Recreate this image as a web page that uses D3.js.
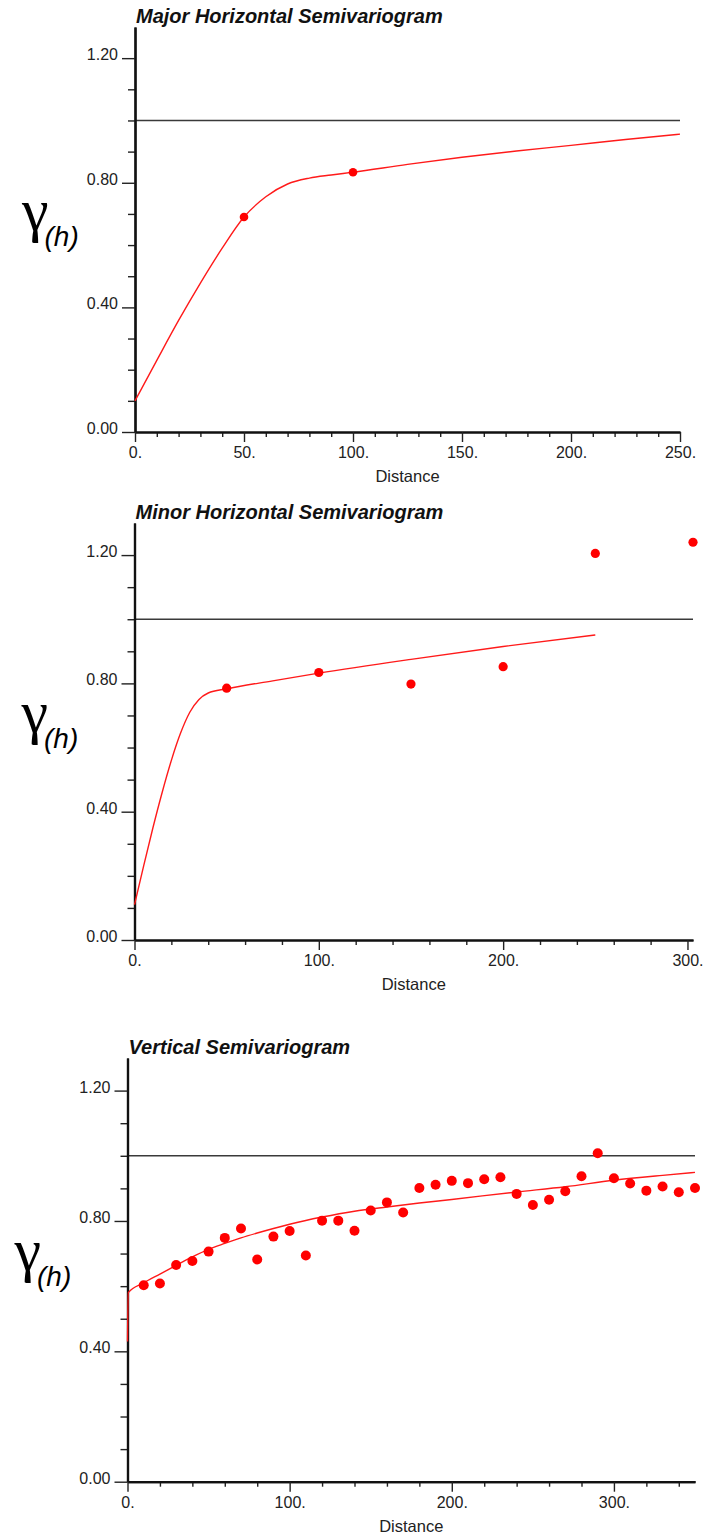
<!DOCTYPE html>
<html>
<head>
    <title>Semivariograms</title>
    <style>
        body { margin: 0; background: #ffffff; }
        svg { display: block; font-family: "Liberation Sans", Arial, sans-serif; }
        .axis-line { stroke: #111; stroke-width: 2.2px; fill: none; }
        .tick-line { stroke: #222; stroke-width: 1.4px; }
        .tick-label { font-size: 16px; fill: #222; }
        .sill { stroke: #3a3a3a; stroke-width: 1.4px; }
        .model { fill: none; stroke: #ff1a1a; stroke-width: 1.4px; }
        .pt { fill: #ff0000; }
        .title { font-size: 20px; font-weight: bold; font-style: italic; fill: #111; }
        .xlabel { font-size: 16.5px; fill: #222; }
    </style>
    <script src="https://d3js.org/d3.v7.min.js"></script>
</head>
<body>
<div id="chart"></div>
<script>
// titles
var titles = ["Major Horizontal Semivariogram", "Minor Horizontal Semivariogram", "Vertical Semivariogram"];

// experimental points
var majorLag = [50, 100];
var majorGamma = [0.69, 0.834];
var minorLag = [50, 100, 150, 200, 250, 303];
var minorGamma = [0.785, 0.834, 0.798, 0.852, 1.205, 1.24];
var vertLag = [10, 20, 30, 40, 50, 60, 70, 80, 90, 100, 110, 120, 130, 140, 150, 160, 170, 180,
               190, 200, 210, 220, 230, 240, 250, 260, 270, 280, 290, 300, 310, 320, 330, 340, 350];
var vertGamma = [0.603, 0.608, 0.665, 0.677, 0.706, 0.748, 0.777, 0.682, 0.752, 0.769, 0.694, 0.801,
                 0.801, 0.770, 0.832, 0.857, 0.826, 0.901, 0.911, 0.923, 0.916, 0.928, 0.934, 0.883,
                 0.849, 0.865, 0.891, 0.937, 1.008, 0.931, 0.915, 0.893, 0.906, 0.888, 0.901];

// fitted models
var majorModelLag = [0, 10, 20, 30, 40, 50, 60, 70, 80, 90, 100, 125, 150, 175, 200, 225, 250];
var majorModelGamma = [0.10, 0.23, 0.358, 0.478, 0.59, 0.69, 0.755, 0.796, 0.815, 0.825, 0.834,
                       0.859, 0.882, 0.902, 0.920, 0.939, 0.956];
var minorModelLag = [0, 5, 10, 15, 20, 25, 30, 35, 40, 50, 75, 100, 150, 200, 250];
var minorModelGamma = [0.11, 0.232, 0.35, 0.46, 0.56, 0.645, 0.71, 0.75, 0.77, 0.783, 0.808,
                       0.832, 0.875, 0.915, 0.951];
var vertModelLag = [0, 0.5, 10, 20, 30, 40, 50, 60, 70, 80, 90, 100, 120, 140, 160, 180, 200, 240,
                    270, 300, 330, 350];
var vertModelGamma = [0.43, 0.58, 0.61, 0.637, 0.664, 0.69, 0.713, 0.731, 0.748, 0.763, 0.777, 0.79,
                      0.812, 0.83, 0.843, 0.855, 0.866, 0.889, 0.905, 0.925, 0.94, 0.949];

// axes
var sill = 1.0;
var yMajorTicks = [0, 0.4, 0.8, 1.2];
var yMinorTicks = [0.1, 0.2, 0.3, 0.5, 0.6, 0.7, 0.9, 1.0, 1.1];
var majorXTicks = [0, 50, 100, 150, 200, 250];
var minorXTicks = [0, 100, 200, 300];
var vertXTicks = [0, 100, 200, 300];

var panels = [
    { title: titles[0], lag: majorLag, gamma: majorGamma, mLag: majorModelLag, mGamma: majorModelGamma,
      xMax: 250, xTicks: majorXTicks, xStep: 10, r: 4.3,
      left: 135, right: 680, top: 27, bottom: 432 },
    { title: titles[1], lag: minorLag, gamma: minorGamma, mLag: minorModelLag, mGamma: minorModelGamma,
      xMax: 303, xTicks: minorXTicks, xStep: 20, r: 4.6,
      left: 134.5, right: 693, top: 523, bottom: 940 },
    { title: titles[2], lag: vertLag, gamma: vertGamma, mLag: vertModelLag, mGamma: vertModelGamma,
      xMax: 350, xTicks: vertXTicks, xStep: 20, r: 5,
      left: 127.5, right: 695, top: 1058, bottom: 1481.7 }
];

var svg = d3.select("#chart").append("svg")
    .attr("width", 706)
    .attr("height", 1535);

panels.forEach(function(p) {
    var x = d3.scaleLinear().domain([0, p.xMax]).range([p.left, p.right]);
    var y = d3.scaleLinear().domain([0, 1.3]).range([p.bottom, p.top]);
    var g = svg.append("g");

    // sill
    g.append("line").attr("class", "sill")
        .attr("x1", x(0)).attr("x2", x(p.xMax))
        .attr("y1", y(sill)).attr("y2", y(sill));

    // y axis: minor then major ticks
    g.append("g").attr("transform", "translate(" + x(0) + ",0)")
        .call(d3.axisLeft(y).tickValues(yMinorTicks).tickSize(7).tickSizeOuter(0).tickFormat(""));
    var yMajor = g.append("g").attr("transform", "translate(" + x(0) + ",0)")
        .call(d3.axisLeft(y).tickValues(yMajorTicks).tickSize(13).tickSizeOuter(0).tickPadding(4)
            .tickFormat(d3.format(".2f")));
    yMajor.selectAll(".tick text").attr("class", "tick-label").attr("dy", "0.1em");

    // x axis
    var minorX = d3.range(0, p.xMax + 0.01, p.xStep).filter(function(v) { return p.xTicks.indexOf(v) < 0; });
    g.append("g").attr("transform", "translate(0," + y(0) + ")")
        .call(d3.axisBottom(x).tickValues(minorX).tickSize(5).tickSizeOuter(0).tickFormat(""));
    var xMajor = g.append("g").attr("transform", "translate(0," + y(0) + ")")
        .call(d3.axisBottom(x).tickValues(p.xTicks).tickSize(10).tickSizeOuter(0).tickPadding(5)
            .tickFormat(function(d) { return d + "."; }));
    xMajor.selectAll(".tick text").attr("class", "tick-label");

    g.selectAll(".domain").attr("class", "axis-line").attr("stroke", null);
    g.selectAll(".tick line").attr("class", "tick-line").attr("stroke", null);

    // model curve
    var line = d3.line()
        .x(function(d) { return x(d[0]); })
        .y(function(d) { return y(d[1]); })
        .curve(d3.curveMonotoneX);
    g.append("path").attr("class", "model")
        .datum(d3.zip(p.mLag, p.mGamma))
        .attr("d", line);

    // experimental points
    g.selectAll("circle").data(d3.zip(p.lag, p.gamma)).enter()
        .append("circle").attr("class", "pt")
        .attr("cx", function(d) { return x(d[0]); })
        .attr("cy", function(d) { return y(d[1]); })
        .attr("r", p.r);

    // labels
    g.append("text").attr("class", "title")
        .attr("x", p.left + 1).attr("y", p.top - 4)
        .text(p.title);
    g.append("text").attr("class", "xlabel")
        .attr("x", (p.left + p.right) / 2).attr("y", p.bottom + 50)
        .attr("text-anchor", "middle")
        .text("Distance");

    var mid = (p.top + p.bottom) / 2;
    var ylab = g.append("text").attr("x", p.left - 113).attr("y", mid);
    ylab.append("tspan").style("font-size", "60px").style("font-family", "'Liberation Serif', serif")
        .text("γ");
    ylab.append("tspan").style("font-size", "28px").style("font-style", "italic")
        .attr("dx", -4).attr("dy", 16).text("(h)");
});
</script>
</body>
</html>
